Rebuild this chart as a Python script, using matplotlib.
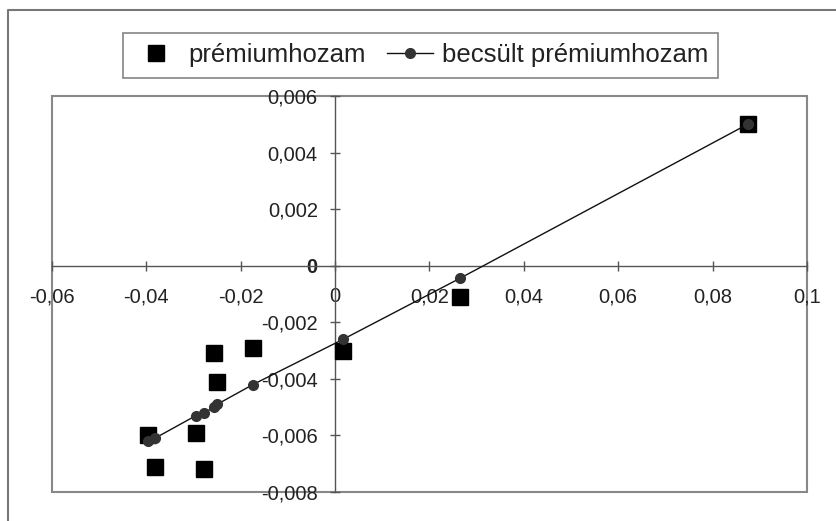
import matplotlib
matplotlib.use("Agg")
import matplotlib.pyplot as plt
from matplotlib.ticker import FuncFormatter, FixedLocator
from matplotlib.patches import Rectangle
from matplotlib.lines import Line2D

plt.rcParams['font.family'] = ['Liberation Sans', 'DejaVu Sans']

# market premium (x), observed and estimated premium return (y)
x_vals = [-0.0397, -0.0382, -0.0295, -0.0278, -0.0256, -0.0250, -0.0174, 0.0017, 0.0264, 0.0874]
y_prem = [-0.0060, -0.0071, -0.0059, -0.0072, -0.0031, -0.0041, -0.0029, -0.0030, -0.0011, 0.0050]
y_est = [-0.0062, -0.0061, -0.0053, -0.0052, -0.0050, -0.0049, -0.0042, -0.0026, -0.00045, 0.0050]

x_ticks = [-0.06, -0.04, -0.02, 0, 0.02, 0.04, 0.06, 0.08, 0.1]
y_ticks = [-0.008, -0.006, -0.004, -0.002, 0, 0.002, 0.004, 0.006]

labels = ["prémiumhozam", "becsült prémiumhozam"]

fig = plt.figure(figsize=(8.37, 5.21), dpi=100)
ax = fig.add_axes([52/837, 1-492/521, (807-52)/837, (492-96)/521])

ax.plot(x_vals, y_prem, linestyle='none', marker='s', markersize=11, color='black',
        label=labels[0], clip_on=False, zorder=3)
ax.plot(x_vals, y_est, linestyle='-', linewidth=1.0, color='#111111', marker='o',
        markersize=7, markerfacecolor='#333333', markeredgecolor='#333333',
        label=labels[1], clip_on=False, zorder=4)

ax.set_xlim(-0.06, 0.1)
ax.set_ylim(-0.008, 0.006)

# axes cross at origin, plot area has a gray frame
for s in ['top', 'right']:
    ax.spines[s].set_visible(False)
ax.spines['left'].set_position(('data', 0))
ax.spines['bottom'].set_position(('data', 0))
for s in ['left', 'bottom']:
    ax.spines[s].set_color('#555555')
    ax.spines[s].set_linewidth(1.0)
ax.add_patch(Rectangle((0, 0), 1, 1, transform=ax.transAxes, fill=False,
                       edgecolor='#888888', linewidth=1.5, zorder=1, clip_on=False))

fmt = FuncFormatter(lambda v, p: f"{v:g}".replace('.', ','))
ax.xaxis.set_major_locator(FixedLocator(x_ticks))
ax.yaxis.set_major_locator(FixedLocator(y_ticks))
ax.xaxis.set_major_formatter(fmt)
ax.yaxis.set_major_formatter(fmt)
ax.tick_params(direction='inout', length=7, width=1, color='#555555',
               labelsize=14.5, labelcolor='#222222')
ax.tick_params(axis='x', pad=12)
ax.tick_params(axis='y', pad=9)
for t, v in zip(ax.yaxis.get_major_ticks(), y_ticks):
    if v == 0:
        t.label1.set_fontweight('bold')

leg = ax.legend(loc='upper left', bbox_to_anchor=(123/837, 1-33/521),
                bbox_transform=fig.transFigure, ncol=2, fontsize=18.5,
                frameon=True, fancybox=False, shadow=False, borderaxespad=0,
                borderpad=0.4, handlelength=1.8, handletextpad=0.35,
                columnspacing=0.8)
leg.get_frame().set_edgecolor('#666666')
leg.get_frame().set_linewidth(1.2)
for t in leg.get_texts():
    t.set_color('#222222')

# outer chart border (cropped at right and bottom)
fig.add_artist(Line2D([8/837, 8/837, 1], [0, 1-10/521, 1-10/521],
                      transform=fig.transFigure, color='#777777', linewidth=1.5))

fig.savefig('out.png', dpi=100)
